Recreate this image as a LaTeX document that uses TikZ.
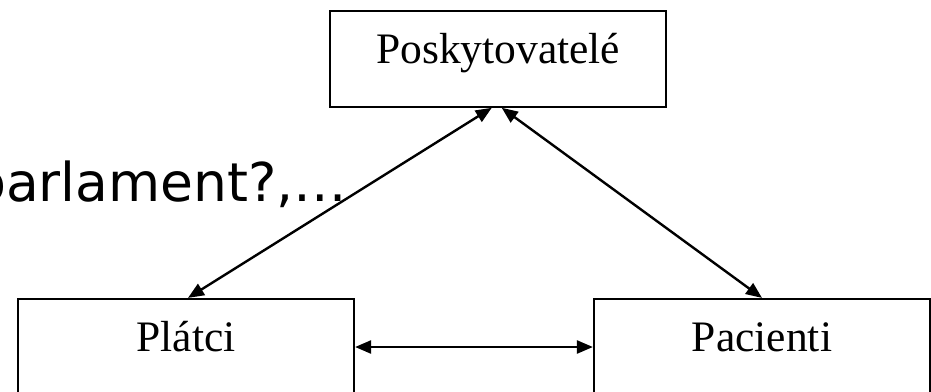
\documentclass[tikz,border=0pt]{standalone}
\usepackage{fontspec}
\setmainfont{Liberation Serif}
\newfontfamily\notefont{DejaVu Sans}
\usetikzlibrary{arrows.meta}

\begin{document}
\begin{tikzpicture}[x=1pt,y=-1pt]
\tikzstyle{every node}+=[inner sep=0pt]
\tikzstyle{party}=[draw=black, line width=2.2pt, minimum width=336pt, minimum height=96pt, text height=38.6pt, text depth=30pt, font=\fontsize{43.5}{50}\selectfont]
\tikzstyle{link}=[black, line width=2.4pt, {Triangle[length=16pt,width=13pt]}-{Triangle[length=16pt,width=13pt]}]
\useasboundingbox (0,0) rectangle (931,391);
\clip (0,0) rectangle (931,391);
\node [anchor=base west, font=\notefont\fontsize{53.5}{60}\selectfont] (note) at (-28,201) {parlament?,…};
\node [party] (posk) at (498.25,58.7) {Poskytovatelé};
\node [party] (plat) at (186,347) {Plátci};
\node [party] (pac) at (762,347) {Pacienti};
\draw [link] ([xshift=-6.5pt]posk.south) -- ([xshift=2pt]plat.north);
\draw [link] ([xshift=3.5pt]posk.south) -- (pac.north);
\draw [link] (plat.east) -- (pac.west);
\end{tikzpicture}
\end{document}
